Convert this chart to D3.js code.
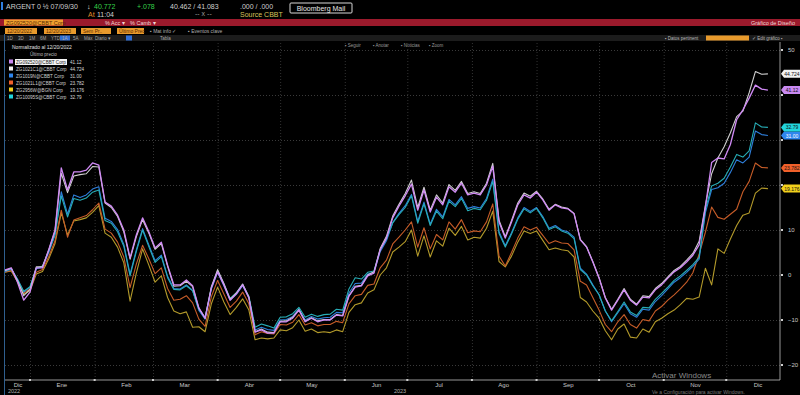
<!DOCTYPE html>
<html>
<head>
<meta charset="utf-8">
<script src="https://cdn.jsdelivr.net/npm/d3@7"></script>
<style>
  body { margin: 0; background: #000; overflow: hidden; }
  svg { display: block; font-family: "Liberation Sans", Arial, sans-serif; }
</style>
</head>
<body>
<svg id="chart" width="800" height="395"></svg>
<script>
// dates: one point every 3 days from 12/20/2022
const startDate = new Date(2022, 11, 20);
const stepDays = 3;

const purple = [1.1, 1.6, -1.6, -5.6, -3.8, 1.6, 1.6, 5.6, 10.0, 23.8,
  18.9, 22.9, 22.9, 23.3, 24.9, 24.4, 16.2, 15.3, 13.3, 10.0,
  3.8, 8.9, 12.7, 9.6, 6.0, 7.3, 2.2, -2.2, -2.2, -1.1,
  -2.4, -7.3, -9.6, -2.9, 0.7, -2.2, -5.6, -4.2, -2.2, -5.1,
  -12.7, -12.2, -12.9, -12.9, -10.4, -10.4, -9.6, -7.8, -10.4, -9.6,
  -10.4, -10.0, -10.0, -8.9, -9.1, -4.7, -2.7, -2.4, -0.2, 0.4,
  5.6, 8.2, 12.7, 15.3, 17.6, 20.2, 14.4, 18.9, 14.0, 17.3,
  15.6, 19.6, 18.4, 20.4, 17.8, 18.2, 17.8, 20.0, 24.2, 11.8,
  8.2, 11.8, 15.6, 17.8, 17.1, 18.4, 16.7, 14.4, 15.6, 14.9,
  14.7, 13.6, 7.8, 6.2, 2.9, -0.7, -5.1, -7.8, -5.6, -3.3,
  -5.6, -6.7, -4.9, -5.1, -3.3, -2.2, -0.7, 0.7, 1.6, 2.9,
  4.4, 6.7, 15.1, 25.0, 26.0, 25.8, 29.0, 34.5, 36.7, 39.3,
  42.2, 41.3, 41.1];

const white = [1.0, 1.5, -1.2, -4.6, -3.2, 1.8, 1.9, 5.6, 9.8, 22.6,
  18.3, 22.0, 22.3, 22.5, 24.1, 24.0, 16.0, 15.0, 13.0, 9.6,
  3.5, 8.5, 12.3, 9.3, 5.7, 7.0, 1.9, -2.5, -2.4, -1.4,
  -2.6, -7.4, -9.6, -2.6, 1.2, -1.9, -5.4, -4.0, -2.0, -4.9,
  -12.6, -12.0, -12.7, -12.8, -10.3, -10.2, -9.4, -7.7, -10.3, -9.5,
  -10.2, -9.9, -9.9, -8.8, -9.0, -4.6, -2.5, -2.3, 0.0, 0.7,
  5.9, 8.6, 13.1, 15.7, 18.1, 21.1, 15.0, 19.5, 14.4, 17.8,
  16.0, 20.1, 18.8, 20.8, 18.1, 18.5, 18.1, 20.4, 24.8, 12.2,
  8.5, 12.1, 16.0, 18.2, 17.5, 18.6, 16.9, 14.6, 15.7, 15.1,
  14.8, 13.7, 7.9, 6.3, 3.0, -0.6, -5.0, -7.6, -5.4, -3.0,
  -5.4, -6.5, -4.6, -4.8, -3.0, -1.9, -0.4, 1.0, 1.9, 3.3,
  4.8, 7.5, 15.5, 22.5, 26.0, 28.5, 31.6, 35.2, 36.4, 40.5,
  45.2, 44.6, 44.7];

const blue = [0.8, 1.3, -0.9, -3.8, -2.7, 1.4, 1.8, 5.0, 8.9, 18.5,
  13.5, 17.8, 17.2, 17.8, 19.1, 19.6, 12.6, 11.9, 10.1, 6.8,
  0.2, 5.6, 10.3, 6.7, 3.2, 4.4, -0.3, -3.0, -3.1, -2.2,
  -3.4, -7.9, -9.8, -3.1, 0.6, -2.4, -5.6, -4.3, -2.4, -5.0,
  -12.2, -11.6, -12.1, -12.3, -10.0, -9.9, -9.2, -7.6, -10.0, -9.2,
  -9.8, -9.5, -9.4, -8.3, -8.4, -4.0, -1.9, -1.8, 0.2, 0.6,
  5.2, 7.6, 11.6, 13.7, 15.4, 17.9, 11.9, 16.2, 11.3, 14.6,
  12.9, 16.8, 15.6, 17.4, 14.8, 15.2, 14.9, 17.0, 21.3, 9.6,
  6.5, 9.4, 12.7, 15.0, 14.1, 15.0, 13.0, 10.4, 11.0, 10.0,
  9.6, 8.4, 1.5, 0.2, -2.2, -4.4, -8.0, -10.4, -8.4, -6.4,
  -8.6, -9.4, -7.6, -7.8, -5.9, -4.6, -3.1, -1.6, -0.6, 0.6,
  1.9, 3.5, 13.8, 19.0, 19.4, 20.4, 22.8, 25.6, 24.9, 26.2,
  32.0, 31.2, 31.0];

const cyan = [0.9, 1.4, -1.0, -3.6, -2.6, 1.5, 2.0, 5.3, 9.1, 17.6,
  12.9, 17.0, 16.6, 17.1, 18.4, 18.9, 12.1, 11.5, 9.6, 6.4,
  -0.2, 5.2, 10.0, 6.3, 2.8, 4.1, -0.6, -3.2, -3.3, -2.4,
  -3.5, -7.6, -9.4, -2.8, 1.0, -2.0, -5.2, -3.9, -2.1, -4.7,
  -11.6, -10.9, -11.3, -11.8, -9.4, -9.3, -8.6, -7.2, -9.4, -8.7,
  -9.2, -8.8, -8.7, -7.6, -7.8, -3.1, -0.6, -0.9, 0.6, 0.9,
  5.6, 8.0, 11.6, 13.4, 15.0, 17.6, 11.5, 15.8, 11.0, 14.2,
  12.5, 16.4, 15.2, 17.0, 14.3, 14.8, 14.5, 16.6, 20.8, 9.2,
  6.2, 9.1, 12.4, 14.7, 13.8, 14.8, 12.7, 10.1, 10.7, 9.8,
  9.3, 8.1, 1.2, 0.0, -2.4, -4.4, -8.0, -10.2, -8.1, -6.0,
  -8.2, -9.0, -7.2, -7.3, -5.4, -4.1, -2.7, -1.2, -0.2, 1.0,
  2.3, 3.9, 14.5, 19.8, 20.4, 21.5, 24.0, 26.8, 26.2, 27.6,
  33.8, 32.9, 32.8];

const orange = [0.7, 1.0, -1.3, -4.0, -3.1, 0.6, 1.2, 4.1, 7.6, 14.4,
  8.4, 12.2, 12.7, 13.2, 14.5, 16.0, 10.2, 9.3, 7.3, 4.0,
  -2.8, 2.4, 6.6, 3.6, 0.3, 1.6, -3.0, -5.6, -5.4, -4.6,
  -6.2, -9.8, -11.4, -4.8, -1.2, -4.2, -7.2, -5.8, -3.8, -6.4,
  -13.3, -12.6, -13.0, -13.1, -11.0, -11.1, -10.5, -8.8, -11.1, -10.6,
  -11.3, -11.0, -11.0, -10.3, -10.6, -6.4, -4.6, -4.3, -2.3, -2.0,
  1.6, 3.3, 6.9, 8.4, 10.0, 11.8, 6.2, 10.5, 5.8, 9.0,
  7.8, 11.8, 10.2, 12.3, 9.4, 9.8, 9.6, 11.8, 15.8, 4.2,
  2.0, 5.0, 8.2, 10.7, 10.0, 10.6, 8.8, 7.0, 7.6, 7.1,
  7.0, 5.6, -1.4, -2.2, -5.0, -7.8, -11.0, -12.6, -10.4, -8.8,
  -11.0, -11.8, -9.9, -10.2, -8.0, -7.0, -5.6, -4.4, -3.1, -1.6,
  0.5, 4.6, 9.5, 15.1, 12.8, 12.4, 13.5, 14.6, 18.5, 20.8,
  24.9, 23.9, 23.8];

const yellow = [0.6, 0.9, -1.5, -4.3, -3.5, 0.2, 0.8, 3.6, 7.0, 13.8,
  8.9, 12.0, 12.3, 12.7, 13.9, 15.4, 9.3, 8.4, 6.2, 2.7,
  -5.8, 0.4, 5.8, 2.2, -1.6, -0.2, -5.0, -8.0, -8.6, -8.2,
  -11.6, -11.5, -12.6, -6.4, -2.7, -6.0, -8.8, -7.2, -5.3, -7.8,
  -14.4, -14.0, -14.2, -14.0, -12.2, -12.4, -11.7, -10.0, -12.5, -12.0,
  -12.8, -12.6, -12.8, -12.2, -12.6, -8.3, -6.6, -6.2, -4.0, -3.3,
  0.0, 1.6, 5.1, 6.2, 7.4, 10.0, 4.2, 8.7, 4.0, 7.6,
  6.4, 10.4, 8.8, 10.8, 7.8, 8.4, 8.2, 10.4, 14.2, 3.0,
  1.8, 4.2, 7.3, 9.8, 9.2, 9.8, 7.7, 5.6, 6.0, 5.6,
  5.4, 4.0, -5.0, -6.0, -8.0, -9.6, -12.4, -14.4, -12.0, -10.9,
  -13.8, -14.0, -12.0, -12.7, -10.4, -9.6, -8.6, -7.8, -6.6, -5.2,
  -5.4, -4.9, 1.5, -2.2, 5.8, 4.8, 8.0, 11.0, 13.3, 13.8,
  18.2, 19.3, 19.2];

// legend order
const seriesNames = ["ZG092520@CBBT Corp", "ZG1021C1@CBBT Corp", "ZG1019N@CBBT Corp",
  "ZG1021L1@CBBT Corp", "ZG2956W@BGN Corp", "ZG10095S@CBBT Corp"];
const lastLabels = ["41.12", "44.724", "31.00", "23.782", "19.176", "32.79"];
const seriesData = [purple, white, blue, orange, yellow, cyan];
const lineColors = ["#d08af5", "#cfcfcf", "#2e7fdc", "#c65c28", "#b39a2a", "#27adb6"];
const boxColors = ["#c98af2", "#f2f2f2", "#2f86ee", "#f0602a", "#f2d01c", "#22d5dc"];
const drawOrder = [4, 3, 2, 5, 1, 0];

const yTicks = [-20, -10, 0, 10, 20, 30, 40, 50];
const monthNames = ["Ene", "Feb", "Mar", "Abr", "May", "Jun", "Jul", "Ago", "Sep", "Oct", "Nov", "Dic"];

const dates = purple.map((d, i) => d3.timeDay.offset(startDate, i * stepDays));

const svg = d3.select("#chart");
const xScale = d3.scaleTime().domain([startDate, new Date(2023, 11, 22)]).range([5, 770]);
const yScale = d3.scaleLinear().domain([-20, 50]).range([365, 50]);
const plotTop = 42, plotBottom = 380, axisX = 780;

svg.append("rect").attr("width", 800).attr("height", 395).attr("fill", "#000");

//#region header chrome
const hdr = svg.append("g").style("font-size", "7px");
hdr.append("rect").attr("x", 1).attr("y", 2).attr("width", 2).attr("height", 8).attr("fill", "#2f7fe0");
hdr.append("text").attr("x", 6).attr("y", 9).attr("fill", "#cfcfcf").text("ARGENT 0 ½ 07/09/30");
hdr.append("text").attr("x", 87).attr("y", 9).attr("fill", "#e0e0e0").text("↓");
hdr.append("text").attr("x", 94).attr("y", 9).attr("fill", "#36d24a").text("40.772");
hdr.append("text").attr("x", 88).attr("y", 17).attr("fill", "#e08a2a").text("At");
hdr.append("text").attr("x", 97).attr("y", 17).attr("fill", "#cfcfcf").text("11:04");
hdr.append("text").attr("x", 137).attr("y", 9).attr("fill", "#36d24a").text("+.078");
hdr.append("text").attr("x", 170).attr("y", 9).attr("fill", "#cfcfcf").text("40.462 / 41.083");
hdr.append("text").attr("x", 195).attr("y", 16).attr("fill", "#9a9a9a").text("-- x --");
hdr.append("text").attr("x", 240).attr("y", 9).attr("fill", "#cfcfcf").text(".000 / .000");
hdr.append("text").attr("x", 240).attr("y", 17).attr("fill", "#d8c25a").text("Source CBBT");
hdr.append("rect").attr("x", 290).attr("y", 3).attr("width", 62).attr("height", 10)
  .attr("fill", "#000").attr("stroke", "#d8d8d8").attr("rx", 1);
hdr.append("text").attr("x", 321).attr("y", 10.5).attr("text-anchor", "middle")
  .attr("fill", "#e8e8e8").text("Bloomberg Mail");

hdr.append("rect").attr("x", 0).attr("y", 19).attr("width", 800).attr("height", 7).attr("fill", "#9b1a2c");
hdr.append("rect").attr("x", 4).attr("y", 19.5).attr("width", 59).attr("height", 6).attr("fill", "#f0a030");
hdr.append("text").attr("x", 6).attr("y", 24.5).attr("fill", "#5a2a00").style("font-size", "5.5px").text("ZG092520@CBBT Corp");
hdr.append("text").attr("x", 105).attr("y", 24.5).attr("fill", "#f0d8d8").style("font-size", "5.5px").text("% Acc ▾");
hdr.append("text").attr("x", 130).attr("y", 24.5).attr("fill", "#f0d8d8").style("font-size", "5.5px").text("% Camb ▾");
hdr.append("text").attr("x", 795).attr("y", 24.5).attr("text-anchor", "end").attr("fill", "#f0d8d8")
  .style("font-size", "5.5px").text("Gráfico de Diseño");

const chips = [[5, 32, "12/20/2022"], [44, 32, "12/20/2023"], [81, 30, "Sem Pr.."], [117, 27, "Último Prec"]];
chips.forEach((c) => {
  hdr.append("rect").attr("x", c[0]).attr("y", 28).attr("width", c[1]).attr("height", 6).attr("fill", "#e89a2c");
  hdr.append("text").attr("x", c[0] + 2).attr("y", 33).attr("fill", "#5a2a00").style("font-size", "5px").text(c[2]);
});
hdr.append("text").attr("x", 150).attr("y", 33).attr("fill", "#b0b0b0").style("font-size", "5px").text("▪ Mat info ✓");
hdr.append("text").attr("x", 188).attr("y", 33).attr("fill", "#b0b0b0").style("font-size", "5px").text("▪ Eventos clave");

hdr.append("rect").attr("x", 0).attr("y", 35).attr("width", 800).attr("height", 6).attr("fill", "#1c1c1c");
const periods = ["1D", "3D", "1M", "6M", "YTD", "1A", "5A", "Máx", "Diario ▾"];
let px = 7;
periods.forEach((p) => {
  if (p === "1A") hdr.append("rect").attr("x", px - 2).attr("y", 35.5).attr("width", 10).attr("height", 5).attr("fill", "#2f6fd8");
  hdr.append("text").attr("x", px).attr("y", 40).attr("fill", "#a8a8a8").style("font-size", "4.5px").text(p);
  px += p.length > 3 ? 22 : 11;
});
hdr.append("rect").attr("x", 126).attr("y", 35.5).attr("width", 6).attr("height", 5).attr("fill", "#2f6fd8");
hdr.append("text").attr("x", 160).attr("y", 40).attr("fill", "#a8a8a8").style("font-size", "4.5px").text("Tabla");
hdr.append("text").attr("x", 665).attr("y", 40).attr("fill", "#b8b8b8").style("font-size", "4.5px").text("▪ Datos pertinent");
hdr.append("rect").attr("x", 706).attr("y", 35.5).attr("width", 43).attr("height", 5).attr("fill", "#e89a2c");
hdr.append("text").attr("x", 752).attr("y", 40).attr("fill", "#b8b8b8").style("font-size", "4.5px").text("✓ Edit gráfico ▪");

const tools = ["▪ Seguir", "▪ Anotar", "▪ Noticias", "▪ Zoom"];
tools.forEach((t, i) => {
  hdr.append("text").attr("x", 345 + i * 28).attr("y", 47).attr("fill", "#9a9a9a").style("font-size", "4.5px").text(t);
});
//#endregion

//#region grid + axes
const g = svg.append("g");

g.append("g")
  .attr("transform", `translate(${axisX},0)`)
  .call(d3.axisLeft(yScale).tickValues(yTicks).tickSize(axisX - 5).tickFormat(""))
  .call((s) => s.select(".domain").remove())
  .selectAll("line").attr("stroke", "#3a3a3a").attr("stroke-dasharray", "1,2");

const monthStarts = d3.timeMonth.range(new Date(2023, 0, 1), new Date(2023, 11, 2));
g.append("g")
  .attr("transform", `translate(0,${plotBottom})`)
  .call(d3.axisBottom(xScale).tickValues(monthStarts).tickSize(-(plotBottom - plotTop)).tickFormat(""))
  .call((s) => s.select(".domain").remove())
  .selectAll("line").attr("stroke", "#333").attr("stroke-dasharray", "1,2");

g.append("line").attr("x1", 5).attr("x2", axisX).attr("y1", plotBottom).attr("y2", plotBottom).attr("stroke", "#bdbdbd").attr("stroke-width", 0.8);
g.append("line").attr("x1", axisX).attr("x2", axisX).attr("y1", plotTop).attr("y2", plotBottom).attr("stroke", "#bdbdbd").attr("stroke-width", 0.8);
g.append("line").attr("x1", 4.5).attr("x2", 4.5).attr("y1", 34).attr("y2", 395).attr("stroke", "#2f5f8f").attr("stroke-width", 1);

// month labels near middle of each (visible) month
const monthLabelDates = d3.timeMonth.range(new Date(2022, 11, 1), new Date(2023, 11, 2)).map((m) => {
  const e = d3.timeMonth.offset(m, 1);
  return m < startDate ? new Date((+startDate + +e) / 2) : d3.timeDay.offset(m, 15);
});
const xAxisG = g.append("g")
  .attr("transform", `translate(0,${plotBottom})`)
  .call(d3.axisBottom(xScale).tickValues(monthLabelDates).tickSize(0).tickPadding(3)
    .tickFormat((d) => monthNames[d.getMonth()]));
xAxisG.select(".domain").remove();
xAxisG.selectAll("text").attr("fill", "#c8c8c8").style("font-size", "6px");
monthStarts.forEach((m) => {
  g.append("rect").attr("x", xScale(m) - 1).attr("y", plotBottom - 1).attr("width", 2).attr("height", 2).attr("fill", "#cfcfcf");
});
g.append("text").attr("x", 14).attr("y", 393).attr("text-anchor", "middle").attr("fill", "#b0b0b0").style("font-size", "5.5px").text("2022");
g.append("text").attr("x", 400).attr("y", 393).attr("text-anchor", "middle").attr("fill", "#b0b0b0").style("font-size", "5.5px").text("2023");

// tick labels that sit under a last-value tag are left out (the tag covers them)
const tagYs = seriesData.map((s) => yScale(s[s.length - 1]));
const shownTicks = yTicks.filter((t) => tagYs.every((ty) => Math.abs(yScale(t) - ty) > 6));
const yAxisG = g.append("g")
  .attr("transform", `translate(${axisX},0)`)
  .call(d3.axisRight(yScale).tickValues(shownTicks).tickSize(0).tickPadding(8));
yAxisG.select(".domain").remove();
yAxisG.selectAll("text").attr("fill", "#c8c8c8").style("font-size", "6px");
yTicks.forEach((t) => {
  g.append("rect").attr("x", axisX + 1).attr("y", yScale(t) - 1).attr("width", 2).attr("height", 2).attr("fill", "#d0d0d0");
});
//#endregion

//#region lines
svg.append("clipPath").attr("id", "plotClip")
  .append("rect").attr("x", 5).attr("y", plotTop).attr("width", axisX - 5).attr("height", plotBottom - plotTop);

const line = d3.line().x((d, i) => xScale(dates[i])).y((d) => yScale(d)).curve(d3.curveLinear);
const linesG = svg.append("g").attr("clip-path", "url(#plotClip)");
drawOrder.forEach((k) => {
  linesG.append("path")
    .datum(seriesData[k])
    .attr("d", line)
    .attr("fill", "none")
    .attr("stroke", lineColors[k])
    .attr("stroke-width", k === 0 ? 1.3 : 1.1)
    .attr("stroke-linejoin", "round");
});
//#endregion

//#region last value tags
seriesData.forEach((s, k) => {
  const ty = yScale(s[s.length - 1]);
  const tag = svg.append("g").attr("transform", `translate(${axisX + 1},${ty})`);
  tag.append("path")
    .attr("d", "M0,0 L3,-4 L19,-4 L19,4 L3,4 Z")
    .attr("fill", boxColors[k]);
  tag.append("text").attr("x", 11).attr("y", 2).attr("text-anchor", "middle")
    .attr("fill", k === 2 ? "#fff" : "#111").style("font-size", "5px").text(lastLabels[k]);
});
//#endregion

//#region legend
const leg = svg.append("g").style("font-size", "4.6px");
leg.append("rect").attr("x", 7).attr("y", 43).attr("width", 82).attr("height", 58).attr("fill", "#000").attr("opacity", 0.85);
leg.append("text").attr("x", 12).attr("y", 49).attr("fill", "#e0e0e0").style("font-size", "5px").text("Normalizado al 12/20/2022");
leg.append("text").attr("x", 30).attr("y", 56).attr("fill", "#bdbdbd").text("Último precio");
seriesNames.forEach((n, i) => {
  const ry = 62 + i * 7;
  leg.append("rect").attr("x", 9).attr("y", ry - 2.5).attr("width", 4).attr("height", 4).attr("fill", boxColors[i]);
  if (i === 0) {
    leg.append("rect").attr("x", 15).attr("y", ry - 3).attr("width", 52).attr("height", 6).attr("fill", "#f4f4f4");
  }
  leg.append("text").attr("x", 16).attr("y", ry + 1.7).attr("fill", i === 0 ? "#222" : "#cfcfcf").text(n);
  leg.append("text").attr("x", 70).attr("y", ry + 1.7).attr("fill", "#d8d8d8").text(lastLabels[i]);
});
//#endregion

// windows watermark
svg.append("text").attr("x", 652).attr("y", 378).attr("fill", "#8a8a8a").style("font-size", "8px").text("Activar Windows");
svg.append("text").attr("x", 652).attr("y", 394).attr("fill", "#7a7a7a").style("font-size", "5px").text("Ve a Configuración para activar Windows.");
</script>
</body>
</html>
